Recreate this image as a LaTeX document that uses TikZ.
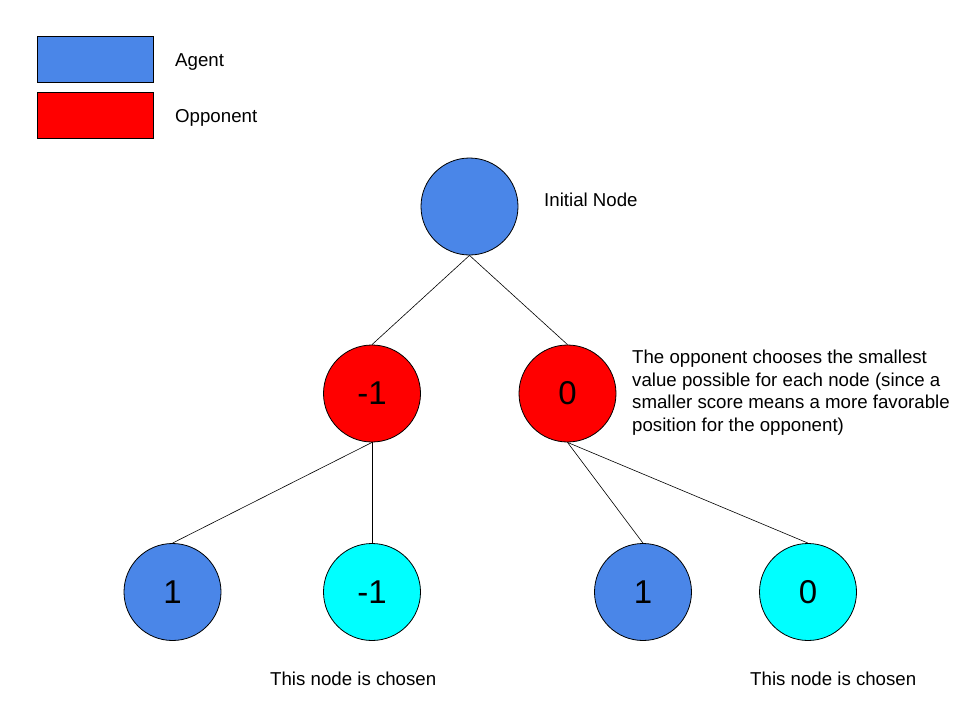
\documentclass[tikz,border=0pt]{standalone}
\usepackage{fontspec}
\setmainfont{Liberation Sans}
\definecolor{agentblue}{HTML}{4A86E8}
\definecolor{oppred}{HTML}{FF0000}
\definecolor{chosencyan}{HTML}{00FFFF}
\begin{document}
\begin{tikzpicture}[x=1pt,y=-1pt,
  gnode/.style={circle,draw=black,line width=0.8pt,minimum size=97pt,inner sep=0pt,font=\fontsize{33}{38}\selectfont},
  agentnode/.style={gnode,fill=agentblue},
  oppnode/.style={gnode,fill=oppred},
  chosennode/.style={gnode,fill=chosencyan},
  legendbox/.style={draw=black,line width=0.8pt,minimum width=116pt,minimum height=46pt,inner sep=0pt},
  lbl/.style={anchor=base west,inner sep=0pt,font=\fontsize{18.67}{22.5}\selectfont},
  edge/.style={draw=black,line width=0.6pt}]
\useasboundingbox (0,0) rectangle (960,720);
% legend
\node[legendbox,fill=agentblue] (lagent) at (95.5,59) {};
\node[legendbox,fill=oppred] (lopp) at (95.5,115) {};
\node[lbl] (tagent) at (175,66.5) {Agent};
\node[lbl] (topp) at (175,122) {Opponent};
% tree
\node[agentnode] (root) at (469.5,206.5) {};
\node[oppnode] (a) at (372,393.5) {-1};
\node[oppnode] (b) at (567.5,393.5) {0};
\node[agentnode] (a1) at (172.5,592) {1};
\node[chosennode] (a2) at (372,592) {-1};
\node[agentnode] (b1) at (643,592) {1};
\node[chosennode] (b2) at (808,592) {0};
\draw[edge] (root.south) -- (a.north);
\draw[edge] (root.south) -- (b.north);
\draw[edge] (a.south) -- (a1.north);
\draw[edge] (a.south) -- (a2.north);
\draw[edge] (b.south) -- (b1.north);
\draw[edge] (b.south) -- (b2.north);
% texts
\node[lbl] (tinit) at (544,206) {Initial Node};
\node[lbl,align=left,anchor=north west] (tdesc) at (632,350) {The opponent chooses the smallest\\value possible for each node (since a\\smaller score means a more favorable\\position for the opponent)};
\node[lbl] (tch1) at (270,685) {This node is chosen};
\node[lbl] (tch2) at (750,685) {This node is chosen};
\end{tikzpicture}
\end{document}
